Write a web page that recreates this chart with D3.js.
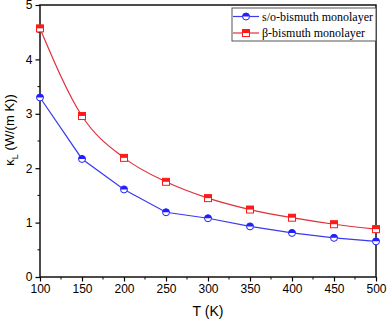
<!DOCTYPE html>
<head>
	<meta charset="utf-8">
	<style>
		body { margin: 0; background: white; }
		svg { font-family: "Liberation Sans", Arial, sans-serif; }
		.legend text { font-family: "Liberation Serif", "Times New Roman", serif; font-size: 12px; }
	</style>
</head>
<body>
	<svg width="387" height="320"></svg>
	<script src="https://d3js.org/d3.v7.min.js"></script>
	<script>
		// data
		var temps = [100, 150, 200, 250, 300, 350, 400, 450, 500];
		var soBismuth = [3.30, 2.17, 1.61, 1.19, 1.08, 0.93, 0.81, 0.72, 0.655];
		var betaBismuth = [4.57, 2.96, 2.19, 1.75, 1.45, 1.24, 1.09, 0.97, 0.88];
		var xTicks = [100, 150, 200, 250, 300, 350, 400, 450, 500];
		var yTicks = [0, 1, 2, 3, 4, 5];
		var seriesNames = ["s/o-bismuth monolayer", "\u03b2-bismuth monolayer"];

		var svg = d3.select("svg"),
			margin = { top: 5, right: 11, bottom: 43, left: 40 },
			width = 387 - margin.left - margin.right,
			height = 320 - margin.top - margin.bottom,
			g = svg.append("g").attr("transform", "translate(" + margin.left + "," + margin.top + ")");

		var x = d3.scaleLinear().domain([100, 500]).range([0, width]);
		var y = d3.scaleLinear().domain([0, 5]).range([height, 0]);

		// minor ticks
		var xMinor = d3.range(125, 500, 50);
		var yMinor = d3.range(0.5, 5, 1);

		g.selectAll(".xminor").data(xMinor).enter().append("line")
			.attr("x1", x).attr("x2", x)
			.attr("y1", height).attr("y2", height + 2.5)
			.attr("stroke", "#000").attr("stroke-width", 1);
		g.selectAll(".yminor").data(yMinor).enter().append("line")
			.attr("y1", y).attr("y2", y)
			.attr("x1", 0).attr("x2", -2.5)
			.attr("stroke", "#000").attr("stroke-width", 1);

		var xAxis = g.append("g")
			.attr("transform", "translate(0," + height + ")")
			.call(d3.axisBottom(x).tickValues(xTicks).tickSize(4.5).tickPadding(3));
		var yAxis = g.append("g")
			.call(d3.axisLeft(y).tickValues(yTicks).tickSize(4.5).tickPadding(3).tickFormat(d3.format("d")));

		[xAxis, yAxis].forEach(function (a) {
			a.selectAll("text").attr("font-size", 12).attr("fill", "#000").attr("font-family", "Liberation Sans, Arial, sans-serif");
			a.selectAll("line").attr("stroke", "#000").attr("stroke-width", 1.2);
			a.select(".domain").remove();
		});

		// frame
		g.append("rect")
			.attr("width", width).attr("height", height)
			.attr("fill", "none").attr("stroke", "#111").attr("stroke-width", 1.5);

		// lines
		var lineBlue = d3.line()
			.x(function (d, i) { return x(temps[i]); })
			.y(function (d) { return y(d); });
		var lineRed = d3.line()
			.curve(d3.curveMonotoneX)
			.x(function (d, i) { return x(temps[i]); })
			.y(function (d) { return y(d); });

		g.append("path").datum(soBismuth)
			.attr("d", lineBlue).attr("fill", "none")
			.attr("stroke", "#3a3af0").attr("stroke-width", 1.2);
		g.append("path").datum(betaBismuth)
			.attr("d", lineRed).attr("fill", "none")
			.attr("stroke", "#e0303a").attr("stroke-width", 1.2);

		// half-filled markers
		function circleMarker(sel, cx, cy) {
			sel.append("circle").attr("cx", cx).attr("cy", cy).attr("r", 3.5)
				.attr("fill", "white").attr("stroke", "#2020ff").attr("stroke-width", 1);
			sel.append("path")
				.attr("d", "M" + (cx - 3.5) + "," + cy + " A3.5,3.5 0 0 1 " + (cx + 3.5) + "," + cy + " Z")
				.attr("fill", "#2020ff");
		}
		function squareMarker(sel, cx, cy) {
			sel.append("rect").attr("x", cx - 3.5).attr("y", cy - 3.5).attr("width", 7).attr("height", 7)
				.attr("fill", "white").attr("stroke", "#ff1a1a").attr("stroke-width", 1);
			sel.append("rect").attr("x", cx - 3.5).attr("y", cy - 3.5).attr("width", 7).attr("height", 3.5)
				.attr("fill", "#ff1a1a");
		}

		var mk = g.append("g");
		soBismuth.forEach(function (d, i) { circleMarker(mk, x(temps[i]), y(d)); });
		betaBismuth.forEach(function (d, i) { squareMarker(mk, x(temps[i]), y(d)); });

		// legend
		var lg = svg.append("g").attr("class", "legend");
		lg.append("rect").attr("x", 232).attr("y", 8).attr("width", 144).attr("height", 33)
			.attr("fill", "white").attr("stroke", "#555").attr("stroke-width", 1);
		lg.append("line").attr("x1", 233).attr("x2", 259).attr("y1", 16.5).attr("y2", 16.5)
			.attr("stroke", "#3a3af0").attr("stroke-width", 1.2);
		circleMarker(lg, 246, 16.5);
		lg.append("line").attr("x1", 233).attr("x2", 259).attr("y1", 33).attr("y2", 33)
			.attr("stroke", "#e0303a").attr("stroke-width", 1.2);
		squareMarker(lg, 246, 33);
		lg.selectAll("text.name").data(seriesNames).enter().append("text")
			.attr("class", "name")
			.attr("x", 262)
			.attr("y", function (d, i) { return i === 0 ? 20.5 : 37; })
			.text(String);

		// axis titles
		svg.append("text")
			.attr("x", margin.left + width / 2).attr("y", 316)
			.attr("text-anchor", "middle").attr("font-size", 14)
			.text("T (K)");
		var yt = svg.append("text")
			.attr("transform", "translate(14,130) rotate(-90)")
			.attr("text-anchor", "middle").attr("font-size", 13);
		yt.append("tspan").text("\u03ba");
		yt.append("tspan").attr("font-size", 9).attr("dy", 3.5).text("L");
		yt.append("tspan").attr("dy", -3.5).text(" (W/(m K))");
	</script>
</body>
